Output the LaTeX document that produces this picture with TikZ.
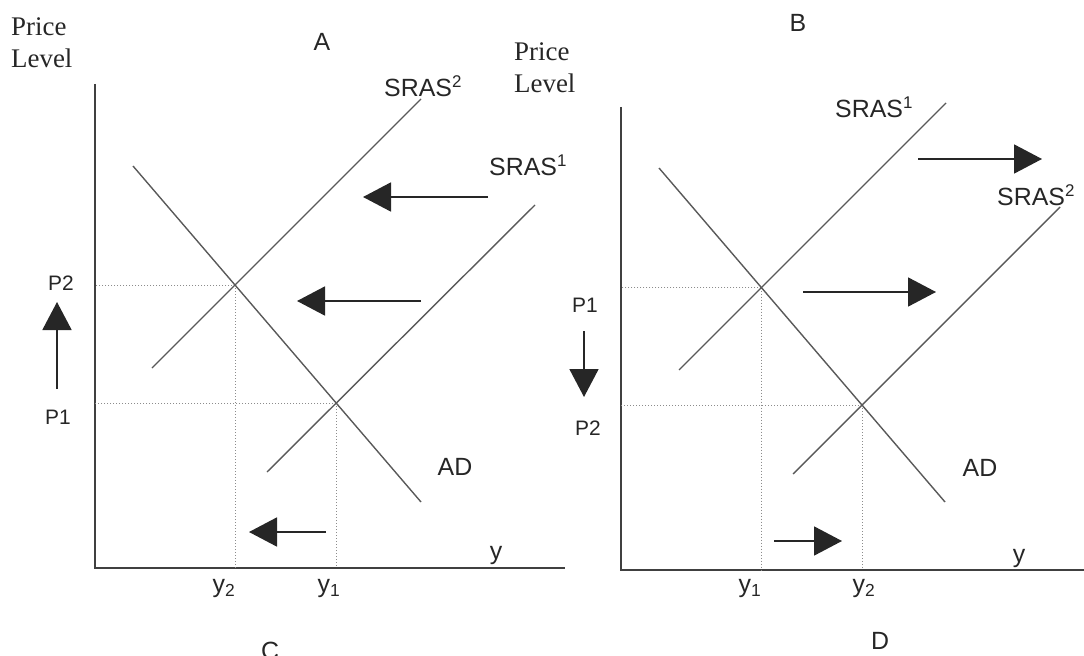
\documentclass[tikz,border=0pt]{standalone}
\usepackage{fontspec}
\setmainfont{Liberation Sans}
\newfontfamily\titleserif{Liberation Serif}
\usetikzlibrary{arrows.meta,intersections}

\newcommand{\supdig}[1]{\raisebox{0.36em}{\fontsize{17}{17}\selectfont #1}}

\tikzset{
  axisline/.style={draw=black!75,line width=2bp},
  curve/.style={draw=black!65,line width=1.4bp},
  guide/.style={draw=black!45,line width=0.9bp,dash pattern=on 1bp off 2bp},
  shiftarrow/.style={draw=black!85,line width=1.8bp,-{Triangle[length=28bp,width=29bp]}},
  lab/.style={font=\fontsize{25}{28}\selectfont,inner sep=0pt,text=black!85},
  plab/.style={font=\fontsize{21}{24}\selectfont,inner sep=0pt,text=black!85},
  ylab/.style={font=\fontsize{25}{28}\selectfont,inner sep=0pt,text=black!85},
  ttl/.style={font=\titleserif\fontsize{27}{33}\selectfont,align=left,inner sep=0pt,anchor=north west,text=black!85},
}

\begin{document}
\begin{tikzpicture}[x=1bp,y=-1bp]
\useasboundingbox (0,0) rectangle (1084,656);

% ---------------- Left panel ----------------
\coordinate (LO) at (95,568);
\coordinate (LT) at (95,84);
\coordinate (LR) at (565,568);
\draw[axisline] (LT) -- (LO) -- (LR);

\path[name path=lad] (133,166) coordinate (lad1) -- (421,502) coordinate (lad2);
\path[name path=ls2] (152,368) coordinate (ls2a) -- (421,99) coordinate (ls2b);
\path[name path=ls1] (267,472) coordinate (ls1a) -- (535,205) coordinate (ls1b);
\path[name intersections={of=lad and ls2,by=LE2}];
\path[name intersections={of=lad and ls1,by=LE1}];

\draw[guide] (LE2) -- (LE2 -| LO);
\draw[guide] (LE2) -- (LE2 |- LO);
\draw[guide] (LE1) -- (LE1 -| LO);
\draw[guide] (LE1) -- (LE1 |- LO);

\draw[curve] (lad1) -- (lad2);
\draw[curve] (ls2a) -- (ls2b);
\draw[curve] (ls1a) -- (ls1b);

\node[ttl] (lprice) at (11,17) {Price\\Level};
\node[lab] (ltitle) at (322,42) {A};
\node[lab,anchor=west] (lsras2) at (384,86) {SRAS\supdig{2}};
\node[lab,anchor=west] (lsras1) at (489,165) {SRAS\supdig{1}};
\node[lab] (ladl) at (455,467) {AD};
\node[ylab] (ly) at (496,556) {y};
\node[ylab] (ly2) at (224,589) {y\textsubscript{2}};
\node[ylab] (ly1) at (329,589) {y\textsubscript{1}};
\node[lab] (lc) at (270,651) {C};
\node[plab] (lp2) at (61,283) {P2};
\node[plab] (lp1) at (58,417) {P1};

\coordinate (lua1) at (57,389);
\coordinate (lua2) at (57,302);
\draw[shiftarrow] (lua1) -- (lua2);
\coordinate (la1s) at (488,197); \coordinate (la1e) at (363,197);
\draw[shiftarrow] (la1s) -- (la1e);
\coordinate (la2s) at (421,301); \coordinate (la2e) at (297,301);
\draw[shiftarrow] (la2s) -- (la2e);
\coordinate (la3s) at (326,532); \coordinate (la3e) at (249,532);
\draw[shiftarrow] (la3s) -- (la3e);

% ---------------- Right panel ----------------
\coordinate (RO) at (621,570);
\coordinate (RT) at (621,107);
\coordinate (RR) at (1084,570);
\draw[axisline] (RT) -- (RO) -- (RR);

\path[name path=rad] (659,168) coordinate (rad1) -- (945,502) coordinate (rad2);
\path[name path=rs1] (679,370) coordinate (rs1a) -- (946,103) coordinate (rs1b);
\path[name path=rs2] (793,474) coordinate (rs2a) -- (1060,207) coordinate (rs2b);
\path[name intersections={of=rad and rs1,by=RE1}];
\path[name intersections={of=rad and rs2,by=RE2}];

\draw[guide] (RE1) -- (RE1 -| RO);
\draw[guide] (RE1) -- (RE1 |- RO);
\draw[guide] (RE2) -- (RE2 -| RO);
\draw[guide] (RE2) -- (RE2 |- RO);

\draw[curve] (rad1) -- (rad2);
\draw[curve] (rs1a) -- (rs1b);
\draw[curve] (rs2a) -- (rs2b);

\node[ttl] (rprice) at (514,42) {Price\\Level};
\node[lab] (rtitle) at (798,23) {B};
\node[lab,anchor=west] (rsras1) at (835,107) {SRAS\supdig{1}};
\node[lab,anchor=west] (rsras2) at (997,195) {SRAS\supdig{2}};
\node[lab] (radl) at (980,468) {AD};
\node[ylab] (ry) at (1019,559) {y};
\node[ylab] (ry1) at (750,589) {y\textsubscript{1}};
\node[ylab] (ry2) at (864,589) {y\textsubscript{2}};
\node[lab] (rd) at (880,641) {D};
\node[plab] (rp1) at (585,305) {P1};
\node[plab] (rp2) at (588,428) {P2};

\coordinate (rda1) at (584,331);
\coordinate (rda2) at (584,397);
\draw[shiftarrow] (rda1) -- (rda2);
\coordinate (ra1s) at (918,159); \coordinate (ra1e) at (1042,159);
\draw[shiftarrow] (ra1s) -- (ra1e);
\coordinate (ra2s) at (803,292); \coordinate (ra2e) at (936,292);
\draw[shiftarrow] (ra2s) -- (ra2e);
\coordinate (ra3s) at (774,541); \coordinate (ra3e) at (842,541);
\draw[shiftarrow] (ra3s) -- (ra3e);
\end{tikzpicture}
\end{document}
